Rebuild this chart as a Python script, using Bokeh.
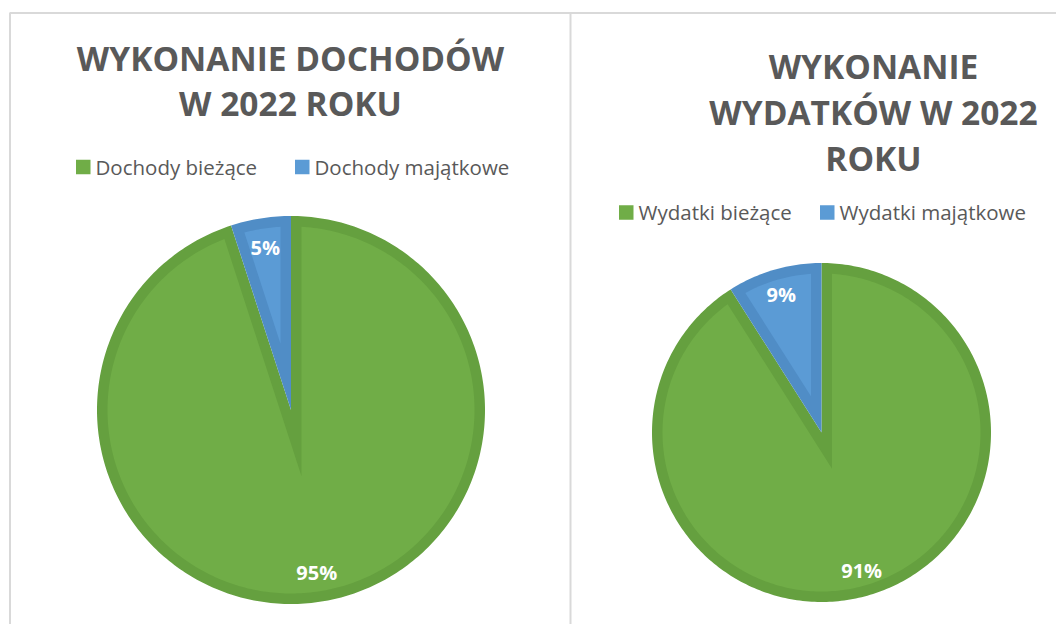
import math
from bokeh.plotting import figure
from bokeh.models import Range1d
from bokeh.core.properties import value
from bokeh.embed import file_html
from bokeh.resources import INLINE

# ---------------- data ----------------
dochody_title = ["WYKONANIE DOCHODÓW", "W 2022 ROKU"]
dochody_labels = ["Dochody bieżące", "Dochody majątkowe"]
dochody_values = [95, 5]

wydatki_title = ["WYKONANIE", "WYDATKÓW W 2022", "ROKU"]
wydatki_labels = ["Wydatki bieżące", "Wydatki majątkowe"]
wydatki_values = [91, 9]

# ---------------- style ----------------
FILL = ["#70AD47", "#5B9BD5"]
EDGE = ["#65A03F", "#508DC6"]
TEXT = "#595959"
FRAME = "#D9D9D9"
FONT = "Open Sans"
TITLE_SIZE = "33.5px"
LEGEND_SIZE = "20.5px"
LABEL_SIZE = "20px"

W, H = 1056, 624
p = figure(width=W, height=H,
           x_range=Range1d(0, W), y_range=Range1d(H, 0),
           output_backend="svg", toolbar_location=None,
           x_axis_type=None, y_axis_type=None, min_border=0)
p.outline_line_color = None
p.grid.visible = False
p.background_fill_color = "white"
p.border_fill_color = "white"

# frames of the two chart areas
p.segment(x0=[9.5, 9, 570], y0=[12.5, 12.5, 12.5],
          x1=[9.5, 1056, 570], y1=[624, 12.5, 624],
          line_color=FRAME, line_width=2)


def pie_shapes(cx, cy, R, values, band=10.5, n=360):
    total = float(sum(values))
    start = 0.0
    oxs, oys, ixs, iys, lx, ly, lt = [], [], [], [], [], [], []
    for v in values:
        t1 = start
        t2 = start + 2 * math.pi * v / total
        start = t2
        k = max(int(n * (t2 - t1) / (2 * math.pi)), 10)
        arc = [t1 + (t2 - t1) * i / k for i in range(k + 1)]
        oxs.append([cx] + [cx + R * math.sin(a) for a in arc])
        oys.append([cy] + [cy - R * math.cos(a) for a in arc])
        # inset region -> darker band along every edge of the slice
        r = R - band
        n1 = (math.cos(t1), math.sin(t1))
        n2 = (-math.cos(t2), -math.sin(t2))
        det = n1[0] * n2[1] - n1[1] * n2[0]
        px = (band * n2[1] - n1[1] * band) / det
        py = (n1[0] * band - band * n2[0]) / det
        d = math.asin(band / r)
        f1, f2 = t1 + d, t2 - d
        arc2 = [f1 + (f2 - f1) * i / k for i in range(k + 1)]
        ixs.append([cx + px] + [cx + r * math.sin(a) for a in arc2])
        iys.append([cy + py] + [cy - r * math.cos(a) for a in arc2])
        tm = (t1 + t2) / 2
        rho = 0.85 * R
        lx.append(cx + rho * math.sin(tm))
        ly.append(cy - rho * math.cos(tm))
        lt.append(f"{round(100 * v / total)}%")
    return oxs, oys, ixs, iys, lx, ly, lt


def draw_pie(cx, cy, R, values):
    oxs, oys, ixs, iys, lx, ly, lt = pie_shapes(cx, cy, R, values)
    for i in range(len(values)):
        p.patch(oxs[i], oys[i], fill_color=EDGE[i], line_color=None)
        p.patch(ixs[i], iys[i], fill_color=FILL[i], line_color=None)
    p.text(x=lx, y=ly, text=lt, text_font=value(FONT),
           text_font_size=LABEL_SIZE, text_font_style="bold",
           text_color="white", text_align="center", text_baseline="middle")


def draw_title(cx, centers, lines):
    p.text(x=[cx] * len(lines), y=centers, text=lines,
           text_font=value(FONT), text_font_size=TITLE_SIZE,
           text_font_style="bold", text_color=TEXT,
           text_align="center", text_baseline="middle")


def draw_legend(sq_x, center, labels):
    size = 14.5
    p.quad(left=sq_x, right=[x + size for x in sq_x],
           top=[center - size / 2 + 0.5] * len(sq_x),
           bottom=[center + size / 2 + 0.5] * len(sq_x),
           fill_color=FILL[:len(sq_x)], line_color=None)
    p.text(x=[x + 19.5 for x in sq_x], y=[center] * len(sq_x), text=labels,
           text_font=value(FONT), text_font_size=LEGEND_SIZE,
           text_color=TEXT, text_align="left", text_baseline="middle")


# left chart
draw_title(290, [57.5, 102.5], dochody_title)
draw_legend([75.5, 294.5], 166, dochody_labels)
draw_pie(290.5, 409.5, 194, dochody_values)

# right chart
draw_title(873, [65, 111, 157], wydatki_title)
draw_legend([618.5, 819.5], 211.5, wydatki_labels)
draw_pie(821, 432, 169.5, wydatki_values)

open("out.html", "w").write(file_html(p, INLINE))
